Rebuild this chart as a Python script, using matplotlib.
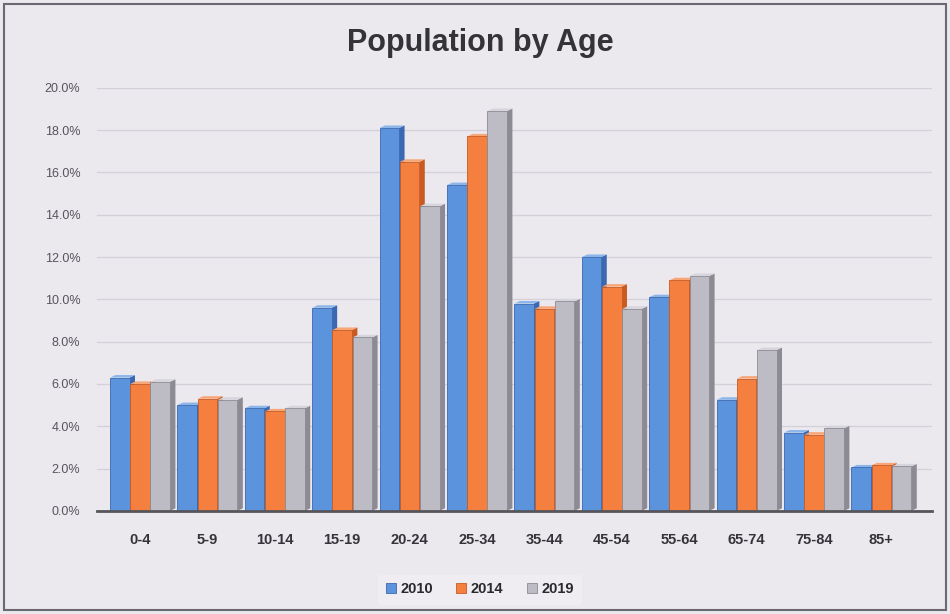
import numpy as np
import matplotlib.pyplot as plt
from matplotlib.ticker import FuncFormatter

plt.rcParams['font.family'] = ['Liberation Sans', 'DejaVu Sans']

age_groups = ['0-4', '5-9', '10-14', '15-19', '20-24', '25-34',
              '35-44', '45-54', '55-64', '65-74', '75-84', '85+']
years = ['2010', '2014', '2019']
share_2010 = [6.3, 5.0, 4.85, 9.6, 18.1, 15.4, 9.8, 12.0, 10.1, 5.25, 3.7, 2.05]
share_2014 = [6.0, 5.3, 4.7, 8.55, 16.5, 17.7, 9.55, 10.6, 10.9, 6.25, 3.6, 2.15]
share_2019 = [6.1, 5.25, 4.85, 8.2, 14.4, 18.9, 9.9, 9.55, 11.1, 7.6, 3.9, 2.1]

front_colors = ['#5b93dc', '#f47f3e', '#bdbcc4']
side_colors = ['#3b68b0', '#c85a22', '#8c8b94']
top_colors = ['#8cb6ea', '#f9a677', '#d6d5dc']

bg = '#ebe8ee'
fig = plt.figure(figsize=(9.5, 6.14), dpi=100, facecolor=bg)
ax = fig.add_axes([0.102, 0.168, 0.879, 0.689])
ax.set_facecolor(bg)

x = np.arange(len(age_groups))
width = 0.29
offsets = [-0.3, 0.0, 0.3]
depth_x = 0.08
depth_y = 0.12

series = [share_2010, share_2014, share_2019]
z = 3
for i in range(len(age_groups)):
    for k, vals in enumerate(series):
        v = vals[i]
        cx = x[i] + offsets[k]
        l, r = cx - width / 2, cx + width / 2
        # right side face
        ax.fill([r, r + depth_x, r + depth_x, r], [0, depth_y, v + depth_y, v],
                color=side_colors[k], zorder=z, lw=0)
        # top face
        ax.fill([l, r, r + depth_x, l + depth_x], [v, v, v + depth_y, v + depth_y],
                color=top_colors[k], zorder=z, lw=0)
        # front face
        ax.bar(cx, v, width=width, color=front_colors[k], zorder=z + 0.5,
               edgecolor=side_colors[k], linewidth=0.6,
               label=years[k] if i == 0 else None)
        z += 1

ax.set_ylim(0, 20)
ax.set_xlim(-0.64, 11.75)
ax.set_yticks(np.arange(0, 20.1, 2))
ax.yaxis.set_major_formatter(FuncFormatter(lambda v, p: f'{v:.1f}%'))
ax.set_xticks(x)
ax.set_xticklabels(age_groups, fontsize=10.5, color='#333338', fontweight='bold')
ax.tick_params(axis='y', labelsize=9, colors='#55555c', length=0, pad=12)
ax.tick_params(axis='x', length=0, pad=16)
ax.grid(axis='y', color='#d3d0d8', linewidth=0.9, zorder=0)
for side in ['top', 'right', 'left']:
    ax.spines[side].set_visible(False)
ax.spines['bottom'].set_color('#55555a')
ax.spines['bottom'].set_linewidth(2)
ax.spines['bottom'].set_zorder(100)

fig.text(0.506, 0.93, 'Population by Age', ha='center', va='center',
         fontsize=22, fontweight='bold', color='#333338')

leg = fig.legend(loc='center', bbox_to_anchor=(0.505, 0.04), ncol=3,
                 frameon=True, fontsize=10.5, handlelength=0.7, handleheight=0.7,
                 handletextpad=0.3, columnspacing=1.6, borderpad=0.5)
leg.get_frame().set_facecolor('#f1eff3')
leg.get_frame().set_edgecolor('#f1eff3')
for t in leg.get_texts():
    t.set_color('#2a2a2e')
    t.set_fontweight('bold')

# outer border of the chart area
fig.patches.append(plt.Rectangle((0.004, 0.006), 0.992, 0.988, transform=fig.transFigure,
                                 fill=False, edgecolor='#6a6870', linewidth=1.5))

fig.savefig('out.png', dpi=100, facecolor=bg)
